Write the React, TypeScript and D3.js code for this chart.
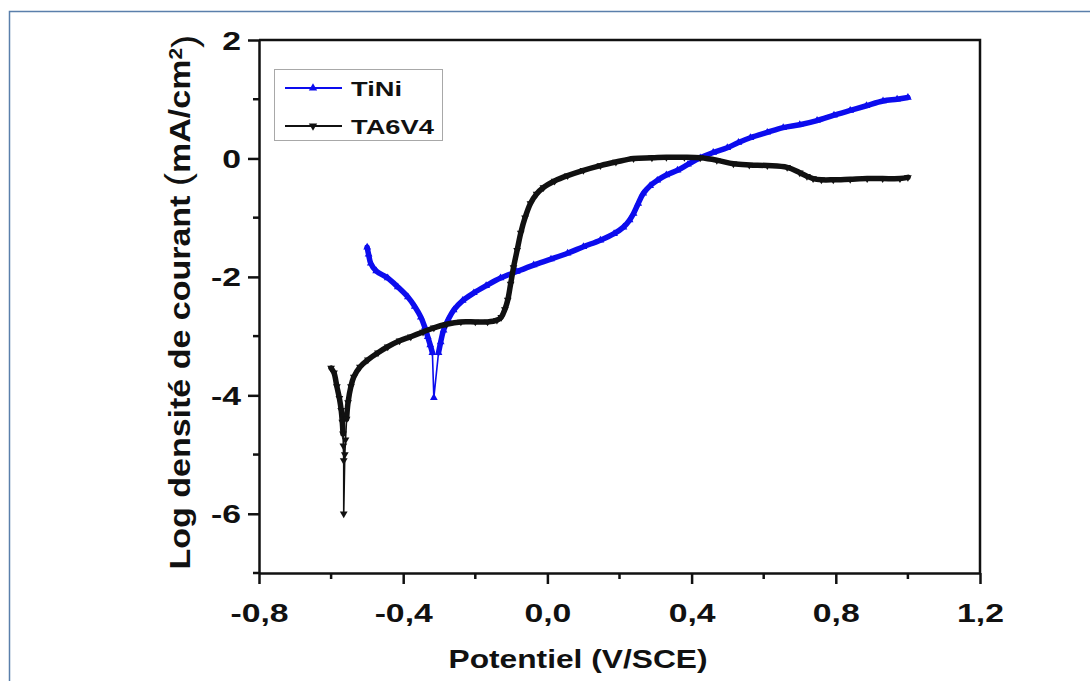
import React, { useEffect, useRef } from 'react';
import * as d3 from 'd3';

// Potentiodynamic curves (E in V/SCE, log i in mA/cm2)
const tiniE = [
  -0.500, -0.496, -0.490, -0.475, -0.443, -0.415, -0.387, -0.368, -0.351, -0.340,
  -0.332, -0.325, -0.319, -0.315, -0.302, -0.296, -0.288, -0.275, -0.260, -0.235,
  -0.204, -0.170, -0.130, -0.085, -0.038, 0.010, 0.056, 0.100, 0.147, 0.185,
  0.211, 0.228, 0.239, 0.252, 0.266, 0.285, 0.305, 0.330, 0.361, 0.390,
  0.424, 0.460, 0.499, 0.530, 0.563, 0.610, 0.654, 0.700, 0.748, 0.795,
  0.840, 0.885, 0.931, 0.970, 1.000,
];
const tiniLogI = [
  -1.50, -1.62, -1.77, -1.90, -2.02, -2.17, -2.34, -2.50, -2.68, -2.85,
  -3.01, -3.15, -3.28, -4.04, -3.28, -3.10, -2.90, -2.72, -2.56, -2.40,
  -2.27, -2.15, -2.02, -1.91, -1.80, -1.70, -1.60, -1.49, -1.38, -1.27,
  -1.16, -1.04, -0.93, -0.76, -0.59, -0.46, -0.37, -0.28, -0.20, -0.10,
  0.01, 0.10, 0.18, 0.27, 0.35, 0.44, 0.52, 0.57, 0.64, 0.73,
  0.81, 0.89, 0.97, 1.00, 1.03,
];

const ta6v4E = [
  -0.600, -0.592, -0.584, -0.577, -0.572, -0.569, -0.567, -0.566, -0.565, -0.565,
  -0.562, -0.560, -0.557, -0.553, -0.545, -0.537, -0.520, -0.498, -0.470, -0.443,
  -0.410, -0.379, -0.345, -0.315, -0.280, -0.240, -0.200, -0.166, -0.140, -0.128,
  -0.118, -0.110, -0.102, -0.094, -0.084, -0.074, -0.062, -0.047, -0.030, -0.011,
  0.020, 0.056, 0.100, 0.147, 0.190, 0.239, 0.290, 0.330, 0.380, 0.424,
  0.470, 0.516, 0.560, 0.610, 0.665, 0.700, 0.720, 0.737, 0.760, 0.793,
  0.840, 0.887, 0.930, 0.978, 1.000,
];
const ta6v4LogI = [
  -3.54, -3.62, -3.85, -4.05, -4.25, -4.45, -4.65, -4.85, -5.10, -6.00,
  -5.00, -4.75, -4.40, -4.12, -3.85, -3.69, -3.52, -3.40, -3.28, -3.18,
  -3.08, -3.01, -2.93, -2.86, -2.80, -2.76, -2.76, -2.76, -2.73, -2.68,
  -2.55, -2.39, -2.12, -1.84, -1.55, -1.26, -1.00, -0.76, -0.60, -0.49,
  -0.38, -0.29, -0.20, -0.12, -0.06, 0.00, 0.01, 0.02, 0.02, 0.01,
  -0.03, -0.09, -0.11, -0.12, -0.15, -0.24, -0.30, -0.34, -0.36, -0.36,
  -0.35, -0.34, -0.34, -0.34, -0.32,
];

const seriesNames = ['TiNi', 'TA6V4'];
const xTicks = [-0.8, -0.4, 0, 0.4, 0.8, 1.2];
const xMinorTicks = [-0.6, -0.2, 0.2, 0.6, 1.0];
const yTicks = [2, 0, -2, -4, -6];
const yMinorTicks = [1, -1, -3, -5, -7];

const W = 1090;
const H = 681;
const plot = { left: 259, right: 980, top: 40, bottom: 573 };
const FONT = '"Liberation Sans", Arial, Helvetica, sans-serif';
const BLUE = '#0c0cee';
const BLACK = '#111111';

const App = () => {
  const svgRef = useRef(null);

  useEffect(() => {
    const svg = d3.select(svgRef.current);
    svg.selectAll('*').remove();

    const x = d3.scaleLinear().domain([-0.8, 1.2]).range([plot.left, plot.right]);
    const y = d3.scaleLinear().domain([-7, 2]).range([plot.bottom, plot.top]);
    const fr = d3.formatLocale({ decimal: ',', thousands: '.', grouping: [3], currency: ['', ''], minus: '-' });

    svg.append('rect').attr('width', W).attr('height', H).attr('fill', '#fff');
    // outer figure frame (runs off the picture at right/bottom)
    svg.append('rect')
      .attr('x', 9.5).attr('y', 11.5).attr('width', 1100).attr('height', 700)
      .attr('fill', 'none').attr('stroke', '#5a7fab').attr('stroke-width', 1.5);

    // top and right frame of the plot
    svg.append('path')
      .attr('d', `M${plot.left},${plot.top}H${plot.right}V${plot.bottom}`)
      .attr('fill', 'none').attr('stroke', BLACK).attr('stroke-width', 2.5);

    // curves
    const series = [
      { name: seriesNames[0], e: tiniE, v: tiniLogI, color: BLUE, cut: -3.35, up: true },
      { name: seriesNames[1], e: ta6v4E, v: ta6v4LogI, color: BLACK, cut: -4.7, up: false },
    ];
    series.forEach(s => {
      const pts = s.e.map((e, i) => [e, s.v[i]]);
      const thin = d3.line().x(d => x(d[0])).y(d => y(d[1]));
      const thick = d3.line().defined(d => d[1] > s.cut).x(d => x(d[0])).y(d => y(d[1]))
        .curve(d3.curveCatmullRom);
      svg.append('path').attr('d', thin(pts)).attr('fill', 'none')
        .attr('stroke', s.color).attr('stroke-width', 1.6);
      svg.append('path').attr('d', thick(pts)).attr('fill', 'none')
        .attr('stroke', s.color).attr('stroke-width', 5.5)
        .attr('stroke-linejoin', 'round').attr('stroke-linecap', 'round');
      const sym = d3.symbol().type(d3.symbolTriangle).size(26);
      svg.append('g').selectAll('path').data(pts).enter().append('path')
        .attr('d', sym())
        .attr('transform', d => `translate(${x(d[0])},${y(d[1])})${s.up ? '' : ' rotate(180)'}`)
        .attr('fill', s.color);
    });

    // bottom axis
    const gx = svg.append('g').attr('transform', `translate(0,${plot.bottom})`)
      .call(d3.axisBottom(x).tickValues(xTicks).tickSize(11).tickSizeOuter(0)
        .tickFormat(d => fr.format('.1f')(d)));
    gx.select('.domain').attr('stroke', BLACK).attr('stroke-width', 2.5);
    gx.selectAll('.tick line').attr('stroke', BLACK).attr('stroke-width', 2.5);
    gx.selectAll('.tick text')
      .attr('y', 49).attr('dy', null)
      .attr('transform', 'scale(1.35,1)')
      .attr('fill', BLACK)
      .style('font-family', FONT).style('font-weight', 'bold').style('font-size', '25px');
    svg.append('g').selectAll('line').data(xMinorTicks).enter().append('line')
      .attr('x1', d => x(d)).attr('x2', d => x(d))
      .attr('y1', plot.bottom).attr('y2', plot.bottom + 6)
      .attr('stroke', BLACK).attr('stroke-width', 2.5);

    // left axis
    const gy = svg.append('g').attr('transform', `translate(${plot.left},0)`)
      .call(d3.axisLeft(y).tickValues(yTicks).tickSize(11).tickSizeOuter(0)
        .tickFormat(d => fr.format('d')(d)));
    gy.select('.domain').attr('stroke', BLACK).attr('stroke-width', 2.5);
    gy.selectAll('.tick line').attr('stroke', BLACK).attr('stroke-width', 2.5);
    gy.selectAll('.tick text')
      .attr('x', null).attr('dy', '0.36em')
      .attr('transform', 'translate(-18,0) scale(1.35,1)')
      .attr('fill', BLACK)
      .style('font-family', FONT).style('font-weight', 'bold').style('font-size', '25px');
    svg.append('g').selectAll('line').data(yMinorTicks).enter().append('line')
      .attr('x1', plot.left - 6).attr('x2', plot.left)
      .attr('y1', d => y(d)).attr('y2', d => y(d))
      .attr('stroke', BLACK).attr('stroke-width', 2.5);

    // axis titles
    svg.append('text')
      .attr('transform', 'translate(578,668) scale(1.22,1)')
      .attr('text-anchor', 'middle')
      .attr('fill', BLACK)
      .style('font-family', FONT).style('font-weight', 'bold').style('font-size', '26px')
      .text('Potentiel (V/SCE)');

    const yt = svg.append('text')
      .attr('transform', 'translate(190,302) rotate(-90) scale(1,0.86)')
      .attr('text-anchor', 'middle')
      .attr('fill', BLACK)
      .style('font-family', FONT).style('font-weight', 'bold').style('font-size', '34px');
    yt.append('tspan').text('Log densité de courant ');
    yt.append('tspan').style('font-weight', 'normal').style('font-size', '40px').text('(');
    yt.append('tspan').text('mA/cm');
    yt.append('tspan').attr('dy', '-0.42em').style('font-size', '21px').text('2');
    yt.append('tspan').attr('dy', '0.42em').style('font-weight', 'normal').style('font-size', '40px').text(')');

    // legend
    const lg = svg.append('g');
    lg.append('rect')
      .attr('x', 274.5).attr('y', 69.5).attr('width', 168).attr('height', 71)
      .attr('fill', '#fff').attr('stroke', '#a8a8a8').attr('stroke-width', 1);
    series.forEach((s, i) => {
      const ly = 88 + i * 38;
      lg.append('line').attr('x1', 285).attr('x2', 342).attr('y1', ly).attr('y2', ly)
        .attr('stroke', s.color).attr('stroke-width', 2);
      lg.append('path')
        .attr('d', d3.symbol().type(d3.symbolTriangle).size(30)())
        .attr('transform', `translate(313,${ly})${s.up ? '' : ' rotate(180)'}`)
        .attr('fill', s.color);
      lg.append('text')
        .attr('transform', `translate(351,${ly + 7.5}) scale(1.3,1)`)
        .attr('fill', BLACK)
        .style('font-family', FONT).style('font-weight', 'bold').style('font-size', '21px')
        .text(s.name);
    });
  }, []);

  return (
    <svg
      ref={svgRef}
      width={W}
      height={H}
      style={{ position: 'absolute', left: 0, top: 0, display: 'block' }}
    />
  );
};

export default App;
